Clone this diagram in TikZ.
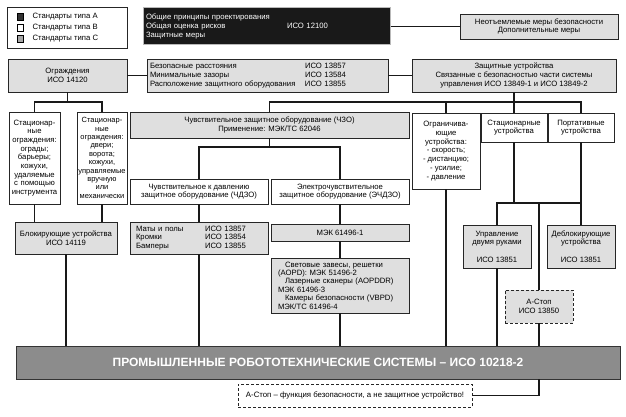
\documentclass[tikz,border=0pt]{standalone}
\usepackage{fontspec}
\setmainfont{Liberation Sans}
\usetikzlibrary{positioning}

\tikzset{
  box/.style={draw=black!85, line width=0.7pt, fill=gray!25, inner sep=1pt,
    align=center, font=\fontsize{7.7}{8.7}\selectfont},
  wbox/.style={box, fill=white},
  dbox/.style={box, dashed, dash pattern=on 3pt off 2pt, line width=0.9pt},
  legsq/.style={draw=black, line width=0.6pt, minimum width=6, minimum height=7, inner sep=0pt},
  legtext/.style={inner sep=1pt, font=\fontsize{7.7}{8.7}\selectfont},
  conn/.style={line width=1.6pt, black!90},
}

\begin{document}
\begin{tikzpicture}[x=1pt, y=-1pt]
\useasboundingbox (0,0) rectangle (626,417);

% legend
\node[wbox, minimum width=120, minimum height=41] (legend) at (67,27.5) {};
\node[legsq, fill=black!80] (sqa) at (20,17) {};
\node[legsq, fill=white] (sqb) at (20,28) {};
\node[legsq, fill=gray!70] (sqc) at (20,39) {};
\node[legtext, right=8pt of sqa] (leta) {Стандарты типа A};
\node[legtext, right=8pt of sqb] (letb) {Стандарты типа B};
\node[legtext, right=8pt of sqc] (letc) {Стандарты типа C};

% type A and B standards, top row
\node[box, fill=black!90, draw=gray!55, line width=1pt, text=white, align=left,
  text width=241, inner xsep=3pt, minimum height=37] (iso12100) at (266.5,26.5)
  {Общие принципы проектирования\\\makebox[141pt][l]{Общая оценка рисков}ИСО 12100\\Защитные меры};
\node[box, minimum width=158, minimum height=25] (measures) at (539,26.5)
  {Неотъемлемые меры безопасности\\Дополнительные меры};

\node[box, minimum width=119, minimum height=33] (guards) at (67.5,75.5) {Ограждения\\ИСО 14120};
\node[box, align=left, text width=235, inner xsep=3pt, minimum height=33] (dist) at (267.5,75.5)
  {\makebox[155pt][l]{Безопасные расстояния}ИСО 13857\\
   \makebox[155pt][l]{Минимальные зазоры}ИСО 13584\\
   \makebox[155pt][l]{Расположение защитного оборудования}ИСО 13855};
\node[box, minimum width=204, minimum height=33] (devices) at (514,75.5)
  {Защитные устройства\\Связанные с безопасностью части системы\\управления ИСО 13849-1 и ИСО 13849-2};

% third row
\node[wbox, minimum width=51, minimum height=92, text width=49] (fixed) at (34.5,158)
  {Стационар-\\ные\\ограждения:\\ограды;\\барьеры;\\кожухи,\\удаляемые\\с помощью\\инструмента};
\node[wbox, minimum width=50, minimum height=92, text width=48,
  font=\fontsize{7.5}{8.4}\selectfont] (movable) at (102,158)
  {Стационар-\\ные\\ограждения:\\двери;\\ворота;\\кожухи,\\управляемые\\вручную\\или\\механически};
\node[box, minimum width=279, minimum height=26] (spe) at (269.5,125)
  {Чувствительное защитное оборудование (ЧЗО)\\Применение: МЭК/ТС 62046};
\node[wbox, minimum width=68, minimum height=76] (limit) at (446,151)
  {Ограничива-\\ющие\\устройства:\\- скорость;\\- дистанцию;\\- усилие;\\- давление};
\node[wbox, minimum width=66, minimum height=29] (fixdev) at (514,127.5) {Стационарные\\устройства};
\node[wbox, minimum width=66, minimum height=29] (portdev) at (581,127.5) {Портативные\\устройства};

\node[wbox, minimum width=138, minimum height=25] (pspe) at (199,191.5)
  {Чувствительное к давлению\\защитное оборудование (ЧДЗО)};
\node[wbox, minimum width=138, minimum height=25] (espe) at (340,191.5)
  {Электрочувствительное\\защитное оборудование (ЭЧДЗО)};

% type C standards, lower rows
\node[box, minimum width=102, minimum height=32] (interlock) at (66,238) {Блокирующие устройства\\ИСО 14119};
\node[box, align=left, text width=126, inner xsep=6pt, minimum height=32] (mats) at (199,238)
  {\makebox[69pt][l]{Маты и полы}ИСО 13857\\
   \makebox[69pt][l]{Кромки}ИСО 13854\\
   \makebox[69pt][l]{Бамперы}ИСО 13855};
\node[box, minimum width=138, minimum height=17] (iec1) at (340,232.5) {МЭК 61496-1};
\node[box, align=left, text width=124, inner xsep=7pt, minimum height=55,
  font=\fontsize{7.7}{8.4}\selectfont] (aopd) at (340,285.5)
  {\hspace{7pt}Световые завесы, решетки\\(AOPD): МЭК 51496-2\\
   \hspace{7pt}Лазерные сканеры (AOPDDR)\\МЭК 61496-3\\
   \hspace{7pt}Камеры безопасности (VBPD)\\МЭК/ТС 61496-4};
\node[box, minimum width=68, minimum height=43] (twohand) at (497,246.5)
  {Управление\\двумя руками\\[8.7pt]ИСО 13851};
\node[box, minimum width=68, minimum height=43] (enabling) at (581,246.5)
  {Деблокирующие\\устройства\\[8.7pt]ИСО 13851};
\node[dbox, minimum width=68, minimum height=33] (estop) at (539,306.5) {А-Стоп\\ИСО 13850};

% robot systems bar and note
\node[box, fill=black!45, draw=black!80, line width=0.9pt, text=white,
  font=\fontsize{12}{14}\selectfont\bfseries, minimum width=604, minimum height=33] (robots) at (318,362.5)
  {ПРОМЫШЛЕННЫЕ РОБОТОТЕХНИЧЕСКИЕ СИСТЕМЫ – ИСО 10218-2};
\node[dbox, fill=white, font=\fontsize{7.8}{9}\selectfont, minimum width=234, minimum height=23] (note) at (355,395.5)
  {А-Стоп – функция безопасности, а не защитное устройство!};

% bus points
\coordinate (bguards) at (67.5,102);
\coordinate (bdevices) at (514,102);
\coordinate (bspe) at (269.5,147);
\coordinate (bdev) at (514,203);

% connectors
\draw[conn] (iso12100) -- (measures);
\draw[conn] (guards.east) -- (dist.west);
\draw[conn] (dist.east) -- (devices.west);
\draw[conn] (guards.south) -- (bguards);
\draw[conn] (fixed.north) |- (bguards) -| (movable.north);
\draw[conn] (devices.south) -- (fixdev.north);
\draw[conn] (spe.north) |- (bdevices) -| (portdev.north);
\draw[conn] (limit.north) -- (limit.north |- bdevices);
\draw[conn] (spe.south) -- (bspe);
\draw[conn] (pspe.north) |- (bspe) -| (espe.north);
\draw[conn] (fixed.south) -- (fixed.south |- interlock.north);
\draw[conn] (movable.south) -- (movable.south |- interlock.north);
\draw[conn] (pspe) -- (mats);
\draw[conn] (espe) -- (iec1);
\draw[conn] (iec1) -- (aopd);
\draw[conn] (fixdev.south) -- (bdev);
\draw[conn] (twohand.north) |- (bdev) -| (portdev.south);
\draw[conn] (portdev.south) -- (enabling.north);
\draw[conn] (estop.north) -- (estop.north |- bdev);
\draw[conn] (interlock.south) -- (interlock.south |- robots.north);
\draw[conn] (mats.south) -- (mats.south |- robots.north);
\draw[conn] (aopd.south) -- (aopd.south |- robots.north);
\draw[conn] (limit.south) -- (limit.south |- robots.north);
\draw[conn] (twohand.south) -- (twohand.south |- robots.north);
\draw[conn] (estop.south) -- (estop.south |- robots.north);
\draw[conn] (note.east) -| (robots.south -| estop.south);
\end{tikzpicture}
\end{document}
